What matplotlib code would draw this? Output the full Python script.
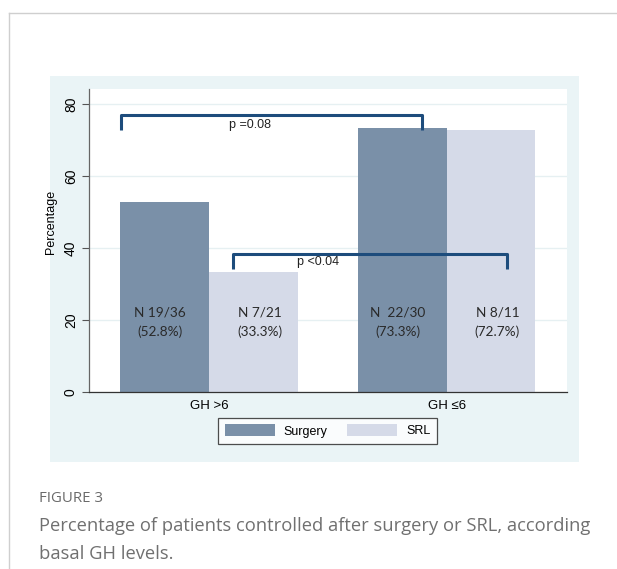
import matplotlib
matplotlib.use("Agg")
import matplotlib.pyplot as plt
from matplotlib.patches import Rectangle, Patch
from matplotlib.lines import Line2D

groups = ["GH >6", "GH \u22646"]
surgery = [52.8, 73.3]
srl = [33.3, 72.7]
surgery_lbl = ["N 19/36\n(52.8%)", "N  22/30\n(73.3%)"]
srl_lbl = ["N 7/21\n(33.3%)", "N 8/11\n(72.7%)"]
yticks = [0, 20, 40, 60, 80]

W, H = 617, 569
C_SURG = "#7a90a8"
C_SRL = "#d5dae8"
C_BG = "#eaf4f6"
C_BR = "#1d4c7c"


def fx(px):
    return px / W


def fy(py):
    return 1 - py / H


fig = plt.figure(figsize=(W / 100, H / 100), dpi=100)
fig.patch.set_facecolor("white")

# page frame lines
fig.add_artist(Line2D([fx(9), 1], [fy(13), fy(13)], color="#cfcfcf", lw=1))
fig.add_artist(Line2D([fx(9), fx(9)], [fy(13), 0], color="#cfcfcf", lw=1))

# stata graph region
fig.add_artist(Rectangle((fx(50), fy(462)), fx(579) - fx(50), fy(76) - fy(462),
                         transform=fig.transFigure, facecolor=C_BG, edgecolor="none", zorder=0))

ax = fig.add_axes([fx(89), fy(392), fx(567) - fx(89), fy(89) - fy(392)])
ax.set_facecolor("white")

x = [0, 1]
w = 0.373
ax.bar([i - w / 2 for i in x], surgery, width=w, color=C_SURG, label="Surgery", zorder=2)
ax.bar([i + w / 2 for i in x], srl, width=w, color=C_SRL, label="SRL", zorder=2)

tf = dict(family="Lato", fontsize=9.8, color="#2a2a2a", ha="center", va="center",
          linespacing=1.65, zorder=4)
for i in x:
    ax.text(i - w / 2 - 0.02, 19.4, surgery_lbl[i], **tf)
    ax.text(i + w / 2 + 0.027, 19.4, srl_lbl[i], **tf)

# brackets
ax.plot([-0.370, -0.370, 0.896, 0.896], [72.8, 76.9, 76.9, 72.8], color=C_BR, lw=2.2,
        solid_joinstyle="round", solid_capstyle="butt", zorder=5)
ax.plot([0.0997, 0.0997, 1.252, 1.252], [34.3, 38.3, 38.3, 34.1], color=C_BR, lw=2.2,
        solid_joinstyle="round", solid_capstyle="butt", zorder=5)
ax.text(0.086, 74.3, "p =0.08", fontsize=9, family="Liberation Sans", color="#222222",
        ha="left", va="center", zorder=5)
ax.text(0.372, 36.2, "p <0.04", fontsize=9, family="Liberation Sans", color="#222222",
        ha="left", va="center", zorder=5)

ax.set_xlim(-0.505, 1.506)
ax.set_ylim(0, 84.2)
ax.set_yticks(yticks)
ax.set_yticklabels([str(v) for v in yticks], rotation=90, va="center",
                   fontsize=10, family="Liberation Sans")
ax.set_xticks(x)
ax.set_xticklabels(groups, fontsize=9.5, family="Liberation Sans")
ax.tick_params(axis="x", length=0, pad=6)
ax.tick_params(axis="y", length=5, width=0.8, color="#555555", pad=3)
ax.grid(axis="y", color="#e6f0f2", lw=1, zorder=0)
ax.set_axisbelow(True)
for s in ["top", "right"]:
    ax.spines[s].set_visible(False)
ax.spines["left"].set_color("#666666")
ax.spines["bottom"].set_color("#333333")
ax.spines["left"].set_linewidth(0.9)
ax.spines["bottom"].set_linewidth(0.9)
ax.set_ylabel("Percentage", fontsize=9, family="Liberation Sans")
ax.yaxis.set_label_coords(-0.066, 0.56)

handles = [Patch(facecolor=C_SURG, edgecolor="none"), Patch(facecolor=C_SRL, edgecolor="none")]
leg = fig.legend(handles, ["Surgery", "SRL"], loc="upper center",
                 bbox_to_anchor=(fx(327.5), fy(418)), ncol=2, frameon=True, fancybox=False,
                 prop=dict(family="Liberation Sans", size=9), handlelength=4.0, handleheight=1.1,
                 columnspacing=1.6, borderpad=0.5, handletextpad=0.7, borderaxespad=0)
leg.get_frame().set_edgecolor("#222222")
leg.get_frame().set_linewidth(0.9)

fig.text(fx(39), fy(499), "FIGURE 3", family="Open Sans", fontsize=10.8, color="#6a6a6a",
         ha="left", va="center")
fig.text(fx(39), fy(526), "Percentage of patients controlled after surgery or SRL, according",
         family="Open Sans", fontsize=13.2, color="#707070", ha="left", va="center")
fig.text(fx(39), fy(554), "basal GH levels.", family="Open Sans", fontsize=13.2,
         color="#707070", ha="left", va="center")

fig.savefig("out.png", dpi=100)
